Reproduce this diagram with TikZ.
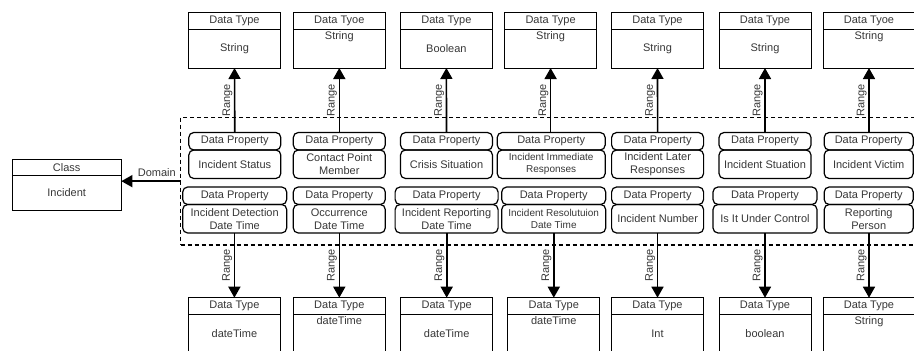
\documentclass[tikz,border=0pt]{standalone}
\usepackage{fontspec}
\setmainfont{Liberation Sans}
\usepackage{tikz}
\usetikzlibrary{arrows.meta,positioning,fit}
\definecolor{ink}{RGB}{55, 55, 55}
\newcommand{\dfont}{\fontsize{11}{13}\selectfont}
\newcommand{\sfont}{\fontsize{10}{12}\selectfont}
\tikzstyle{dthead} = [rectangle, draw=black, line width=0.9pt, outer sep=0pt, inner sep=0pt, minimum width=92pt, minimum height=16.3pt, text=ink, font=\dfont]
\tikzstyle{dtbody} = [dthead, minimum height=39pt]
\tikzstyle{dttop} = [dtbody, text depth=25pt]
\tikzstyle{prhead} = [rectangle, rounded corners=5pt, draw=black, line width=1.2pt, outer sep=0pt, inner sep=0pt, minimum width=92pt, minimum height=17.5pt, text=ink, font=\dfont, align=center]
\tikzstyle{prbody} = [prhead, minimum height=28.5pt]
\tikzstyle{prwide} = [minimum width=104pt]
\tikzstyle{clshead} = [dthead, minimum width=109.3pt, minimum height=16.4pt]
\tikzstyle{clsbody} = [clshead, minimum height=34.3pt]
\tikzstyle{grpbox} = [draw, dash pattern=on 4pt off 3pt, line width=1.5pt, inner sep=0pt, outer sep=0pt]
\tikzstyle{tedge}  = [draw, line width=1.6pt, -{Triangle[width=12pt,length=11pt]}]
\tikzstyle{rlabel} = [rotate=90, anchor=south, inner sep=1.5pt, text=ink, font=\dfont]

\begin{document}
\begin{tikzpicture}[x=1pt, y=-1pt]
\useasboundingbox (0,0) rectangle (914,351);
\clip (0,0) rectangle (914,351);

% group =============================
\node[grpbox, fit={(180.5,117.3) (960,245)}] (grp) {};

% class =============================
\node[clshead] (cls) at (66.7,167.5) {Class};
\node[clsbody, below=0pt of cls] (clsn) {Incident};

% data types (top) =============================
\node[dthead] (t1) at (234.5,20.85) {Data Type};
\node[dtbody, below=0pt of t1] (t1v) {String};
\node[dthead] (t2) at (339.3,20.85) {Data Tyoe};
\node[dttop, below=0pt of t2] (t2v) {String};
\node[dthead] (t3) at (446.4,20.85) {Data Type};
\node[dtbody, below=0pt of t3] (t3v) {Boolean};
\node[dthead] (t4) at (550.6,20.85) {Data Type};
\node[dttop, below=0pt of t4] (t4v) {String};
\node[dthead] (t5) at (657.5,20.85) {Data Type};
\node[dtbody, below=0pt of t5] (t5v) {String};
\node[dthead] (t6) at (765,20.85) {Data Type};
\node[dtbody, below=0pt of t6] (t6v) {String};
\node[dthead] (t7) at (869,20.85) {Data Tyoe};
\node[dttop, below=0pt of t7] (t7v) {String};

% data properties (top) =============================
\node[prhead] (p1) at (234.8,141.25) {Data Property};
\node[prbody, below=0pt of p1] (p1n) {Incident Status};
\node[prhead] (p2) at (339.3,141.25) {Data Property};
\node[prbody, below=0pt of p2] (p2n) {Contact Point\\Member};
\node[prhead] (p3) at (446.5,141.25) {Data Property};
\node[prbody, below=0pt of p3] (p3n) {Crisis Situation};
\node[prhead, minimum width=108pt] (p4) at (551.2,141.25) {Data Property};
\node[prbody, minimum width=108pt, below=0pt of p4, font=\sfont] (p4n) {Incident Immediate\\Responses};
\node[prhead] (p5) at (657.6,141.25) {Data Property};
\node[prbody, below=0pt of p5] (p5n) {Incident Later\\Responses};
\node[prhead] (p6) at (765,141.25) {Data Property};
\node[prbody, below=0pt of p6] (p6n) {Incident Stuation};
\node[prhead, minimum width=89pt] (p7) at (868.7,141.25) {Data Property};
\node[prbody, minimum width=89pt, below=0pt of p7] (p7n) {Incident Victim};

% data properties (bottom) =============================
\node[prhead, prwide] (q1) at (234.7,195.75) {Data Property};
\node[prbody, prwide, below=0pt of q1] (q1n) {Incident Detection\\Date Time};
\node[prhead] (q2) at (339.3,195.75) {Data Property};
\node[prbody, below=0pt of q2] (q2n) {Occurrence\\Date Time};
\node[prhead, minimum width=103pt] (q3) at (446.6,195.75) {Data Property};
\node[prbody, minimum width=103pt, below=0pt of q3] (q3n) {Incident Reporting\\Date Time};
\node[prhead, prwide] (q4) at (553.7,195.75) {Data Property};
\node[prbody, prwide, below=0pt of q4, font=\sfont] (q4n) {Incident Resolutuion\\Date Time};
\node[prhead] (q5) at (657.6,195.75) {Data Property};
\node[prbody, below=0pt of q5] (q5n) {Incident Number};
\node[prhead, prwide] (q6) at (765,195.75) {Data Property};
\node[prbody, prwide, below=0pt of q6] (q6n) {Is It Under Control};
\node[prhead, minimum width=89pt] (q7) at (868.7,195.75) {Data Property};
\node[prbody, minimum width=89pt, below=0pt of q7] (q7n) {Reporting\\Person};

% data types (bottom) =============================
\node[dthead] (b1) at (234.4,305.85) {Data Type};
\node[dtbody, below=0pt of b1] (b1v) {dateTime};
\node[dthead] (b2) at (339.3,305.85) {Data Type};
\node[dttop, below=0pt of b2] (b2v) {dateTime};
\node[dthead] (b3) at (446.7,305.85) {Data Type};
\node[dtbody, below=0pt of b3] (b3v) {dateTime};
\node[dthead] (b4) at (553.8,305.85) {Data Type};
\node[dttop, below=0pt of b4] (b4v) {dateTime};
\node[dthead] (b5) at (657.5,305.85) {Data Type};
\node[dtbody, below=0pt of b5] (b5v) {Int};
\node[dthead] (b6) at (765,305.85) {Data Type};
\node[dtbody, below=0pt of b6] (b6v) {boolean};
\node[dthead] (b7) at (869,305.85) {Data Type};
\node[dttop, below=0pt of b7] (b7v) {String};

% edges =============================
\path[tedge] (grp.west) -- node[above, pos=0.4, inner sep=3.5pt, text=ink, font=\dfont] {Domain} (grp.west -| clsn.east);

\path[tedge] (p1.north) -- node[rlabel] {Range} (t1v.south);
\path[tedge] (p2.north) -- node[rlabel] {Range} (t2v.south);
\path[tedge] (p3.north) -- node[rlabel] {Range} (t3v.south);
\path[tedge] (t4v.south |- p4.north) -- node[rlabel] {Range} (t4v.south);
\path[tedge] (p5.north) -- node[rlabel] {Range} (t5v.south);
\path[tedge] (p6.north) -- node[rlabel] {Range} (t6v.south);
\path[tedge] (t7v.south |- p7.north) -- node[rlabel] {Range} (t7v.south);

\path[tedge] (b1.north |- q1n.south) -- node[rlabel] {Range} (b1.north);
\path[tedge] (q2n.south) -- node[rlabel] {Range} (b2.north);
\path[tedge] (b3.north |- q3n.south) -- node[rlabel] {Range} (b3.north);
\path[tedge] (b4.north |- q4n.south) -- node[rlabel] {Range} (b4.north);
\path[tedge] (b5.north |- q5n.south) -- node[rlabel] {Range} (b5.north);
\path[tedge] (q6n.south) -- node[rlabel] {Range} (b6.north);
\path[tedge] (b7.north |- q7n.south) -- node[rlabel] {Range} (b7.north);

\end{tikzpicture}
\end{document}
